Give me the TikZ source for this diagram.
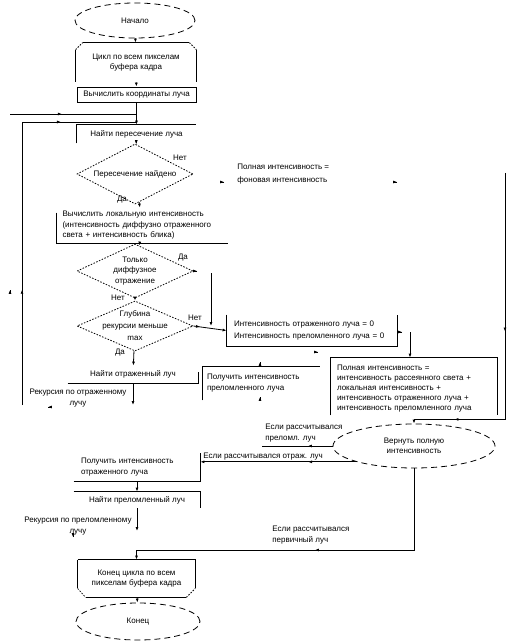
\documentclass[tikz,border=0pt]{standalone}
\usepackage{fontspec}
\setmainfont{Liberation Sans}
\usetikzlibrary{arrows.meta,shapes.geometric,calc,decorations.markings}

\begin{document}
\begin{tikzpicture}[x=1pt, y=-1pt, line width=0.8pt, >={Latex[length=4pt,width=3pt]},
  every node/.style={font=\fontsize{8}{10.5}\selectfont, inner sep=0pt},
  blk/.style 2 args={rectangle, minimum width=#1, minimum height=#2, align=center},
  term/.style 2 args={ellipse, draw, dash pattern=on 6pt off 4pt, minimum width=#1,
    minimum height=#2, align=center},
  dec/.style 2 args={diamond, draw, dash pattern=on 1.5pt off 1.5pt, minimum width=#1,
    minimum height=#2},
  dotedge/.style={dash pattern=on 1.5pt off 1.5pt},
  midarr/.style={postaction={decorate, decoration={markings,
    mark=at position #1 with {\arrow{>}}}}}]
  \fill[white] (0,0) rectangle (516,644);
  \useasboundingbox (0,0) rectangle (516,644);

  \node[term={120}{35}] (start) at (135,20.5) {Начало};
  \node[blk={120}{39}] (loopA) at (136,62.5) {Цикл по всем пикселам\\буфера кадра};
  \node[blk={119}{15}, draw] (coords) at (136.5,94.5) {Вычислить координаты луча};
  \node[blk={119}{18}] (find) at (136.5,134) {Найти пересечение луча};
  \node[dec={116}{60}, label={center:Пересечение найдено}] (hit) at (135,174) {};
  \node[anchor=west, align=left, font=\fontsize{8}{13}\selectfont] (bg) at (237,174.5)
    {Полная интенсивность =\\фоновая интенсивность};
  \node[blk={171}{35}, text width=160, align=left] (loc) at (142.5,225.5)
    {Вычислить локальную интенсивность\\(интенсивность диффузно отраженного\\света + интенсивность блика)};
  \node[dec={116}{54}, label={[align=center, font=\fontsize{8}{10.5}\selectfont]center:Только\\диффузное\\отражение}]
    (diff) at (135,271) {};
  \node[dec={116}{50}, label={[align=center, font=\fontsize{8}{12}\selectfont]center:Глубина\\рекурсии меньше\\max}]
    (depth) at (135,326) {};
  \node[blk={170}{31}, text width=156, align=left, font=\fontsize{8}{12}\selectfont] (zero) at (312,330.5)
    {Интенсивность отраженного луча = 0\\Интенсивность преломленного луча = 0};
  \node[blk={117}{33}, text width=109, align=left, font=\fontsize{8}{11}\selectfont] (refr) at (261.5,383.5)
    {Получить интенсивность\\преломленного луча};
  \node[blk={130}{17}] (refl) at (133,374.5) {Найти отраженный луч};
  \node[blk={166}{61}, text width=154, align=left, font=\fontsize{8}{10}\selectfont] (full) at (414,388.5)
    {Полная интенсивность =\\интенсивность рассеянного света +\\локальная интенсивность +\\интенсивность отраженного луча +\\интенсивность преломленного луча};
  \node[term={162}{44}] (ret) at (414,446) {Вернуть полную\\интенсивность};
  \node[blk={126}{28}, text width=112, align=left, font=\fontsize{8}{11}\selectfont] (getr) at (137,467)
    {Получить интенсивность\\отраженного луча};
  \node[blk={126}{16}] (fr) at (137,500) {Найти преломленный луч};
  \node[blk={117}{37}] (endloop) at (136.5,578.5) {Конец цикла по всем\\пикселам буфера кадра};
  \node[term={124}{37}] (end) at (138,621.5) {Конец};

  \node (no1) at (180,158) {Нет};
  \node (yes1) at (122,200) {Да};
  \node (yes2) at (183,258) {Да};
  \node (no2) at (118,298) {Нет};
  \node (no3) at (195,318) {Нет};
  \node (yes3) at (120,353) {Да};
  \node[align=center] (recAtxt) at (78,398) {Рекурсия по отраженному\\лучу};
  \node[align=center] (recBtxt) at (78,526) {Рекурсия по преломленному\\лучу};
  \node[anchor=west, align=left, font=\fontsize{8}{11}\selectfont] (ifr) at (265,433)
    {Если рассчитывался\\преломл. луч};
  \node[anchor=west] (ifo) at (203,457) {Если рассчитывался отраж. луч};
  \node[anchor=west, align=left, font=\fontsize{8}{11}\selectfont] (ifp) at (272,535.5)
    {Если рассчитывался\\первичный луч};

  \draw[dotedge] ($(loopA.north west)+(0,7)$) -- ($(loopA.north west)+(7,0)$);
  \draw ($(loopA.north west)+(7,0)$) -- ($(loopA.north east)+(-7,0)$);
  \draw[dotedge] ($(loopA.north east)+(-7,0)$) -- ($(loopA.north east)+(0,7)$);
  \draw ($(loopA.north west)+(0,7)$) -- (loopA.south west);
  \draw ($(loopA.north east)+(0,7)$) -- (loopA.south east);
  \draw (find.south west) -- (find.north west) -- (find.north east);
  \draw ($(loc.north west)+(0,5)$) -- (loc.south west) -- (loc.south east);
  \draw (zero.north west) -- (zero.south west) -- (zero.south east) -- (zero.north east);
  \draw (refr.south west) -- (refr.north west) -- (refr.north east);
  \draw (refl.south west) -- (refl.south east) -- ($(refl.north east)+(0,6)$);
  \draw ($(full.south west)+(0,-4)$) -- (full.north west) -- (full.north east)
    -- ($(full.south east)+(0,-4)$);
  \draw (getr.south west) -- (getr.south east) -- (getr.north east);
  \draw (fr.north west) -- (fr.north east) -- (fr.south east);
  \draw (endloop.north west) -- ($(endloop.south west)+(0,-9)$);
  \draw[dotedge] ($(endloop.south west)+(0,-9)$) -- ($(endloop.south west)+(8,0)$);
  \draw ($(endloop.south west)+(8,0)$) -- ($(endloop.south east)+(-9,0)$);
  \draw[dotedge] ($(endloop.south east)+(-9,0)$) -- ($(endloop.south east)+(0,-9)$);
  \draw ($(endloop.south east)+(0,-9)$) -- (endloop.north east) -- (endloop.north west);

  \coordinate (lA) at (10,114);
  \coordinate (lB) at (22,405);
  \coordinate (lC) at (22,122);
  \coordinate (jn) at (211,273);
  \coordinate (z1) at (410,332);
  \coordinate (rtop) at (505,173);
  \coordinate (rL) at (262,446);
  \coordinate (recA) at (0,405);
  \coordinate (recB) at (0,531);
  \coordinate (bend) at (412,550);

  \draw[->] (start) -- (loopA);
  \draw[->] (loopA) -- (coords);
  \draw[->] (coords) -- (find);
  \draw[midarr=0.41] (lA) -- (lA -| find.north);
  \draw[midarr=0.29, midarr=0.81] (lB) -- (lC) -- (lC -| find.north);
  \draw[->] (find) -- (hit);
  \draw[->] (hit) -- (loc);
  \draw[->] (loc) -- (diff);
  \draw[->] (diff) -- (depth);
  \draw[->] (jn) -- (jn |- depth.east);
  \draw[->, midarr=0.2] (depth.east) -- (zero.west);
  \draw[->] (depth) -- (refl);
  \draw[->] (refl.south) -- (refl.south |- recA);
  \draw[->] (z1) -- (z1 |- full.north);
  \draw[midarr=0.47, midarr=0.88] (rtop) -- (rtop |- full.south) -- (full.south);
  \draw[->] (full.south) -- (ret);
  \draw[midarr=0.35] (ret.west) -- (rL);
  \draw[->, midarr=0.31] (ret.south west) -- (ret.south west -| getr.east);
  \draw[->] (getr) -- (fr);
  \draw[->] (fr.south) -- (fr.south |- recB);
  \draw[->, midarr=0.49] (ret.south) -- (ret.south |- bend) -- (endloop.north |- bend)
    -- (endloop.north);
  \draw[->] (endloop) -- (end);

  \foreach \px/\py/\dx/\dy in {224/182/1/0, 397/182/1/0, 197/271/1/0, 402/332/1/0,
    318/352/1/0, 260/362/0/-1, 260/397/0/-1, 48/407/-1/0, 73/537/0/1, 10/290/0/-1}
    \draw[->] (\px,\py) -- ++(0.1*\dx,0.1*\dy);
\end{tikzpicture}
\end{document}
